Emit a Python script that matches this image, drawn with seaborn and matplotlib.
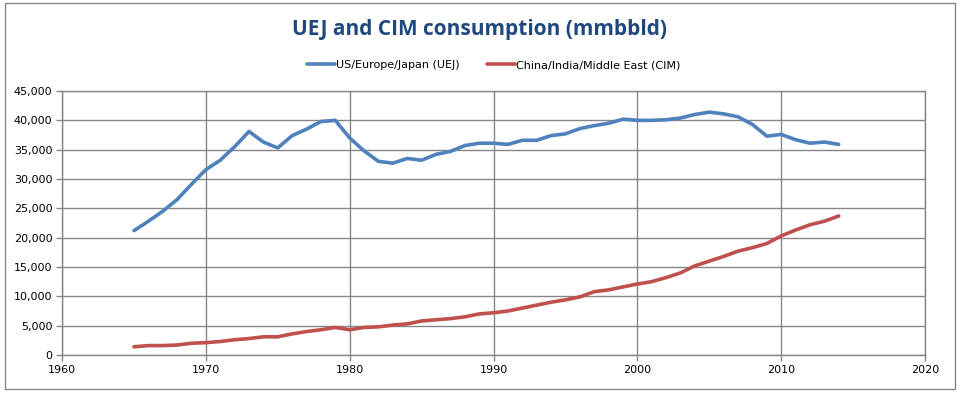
import matplotlib
matplotlib.use("Agg")
import matplotlib.pyplot as plt
import matplotlib.ticker as mticker
from matplotlib.patches import Rectangle
import pandas as pd
import seaborn as sns

years = list(range(1965, 2015))
uej = [21200, 22800, 24500, 26500, 29100, 31600, 33200, 35500, 38100, 36300,
       35300, 37400, 38500, 39800, 40000, 37000, 34800, 33000, 32700, 33500,
       33200, 34200, 34700, 35700, 36100, 36100, 35900, 36600, 36600, 37400,
       37700, 38600, 39100, 39500, 40200, 40000, 40000, 40100, 40400, 41000,
       41400, 41100, 40600, 39300, 37300, 37600, 36700, 36100, 36300, 35900]
cim = [1400, 1600, 1600, 1700, 2000, 2100, 2300, 2600, 2800, 3100,
       3100, 3600, 4000, 4300, 4700, 4300, 4700, 4800, 5100, 5300,
       5800, 6000, 6200, 6500, 7000, 7200, 7500, 8000, 8500, 9000,
       9400, 9900, 10800, 11100, 11600, 12100, 12500, 13200, 14000, 15200,
       16000, 16800, 17700, 18300, 19000, 20300, 21300, 22200, 22800, 23700]
series_names = ["US/Europe/Japan (UEJ)", "China/India/Middle East (CIM)"]

df = pd.DataFrame({
    "year": years * 2,
    "value": uej + cim,
    "series": [series_names[0]] * len(years) + [series_names[1]] * len(years),
})

sns.set_theme(style="white")
plt.rcParams["font.family"] = ["DejaVu Sans"]

grid_col = "#868686"
fig = plt.figure(figsize=(9.6, 3.94), dpi=100)
ax = fig.add_axes([0.0646, 0.099, 0.899, 0.670])

sns.lineplot(data=df, x="year", y="value", hue="series",
             palette=["#4F81BD", "#C0504D"], linewidth=2.6, ax=ax)

ax.set_xlim(1960, 2020)
ax.set_ylim(0, 45000)
ax.set_xticks(range(1960, 2021, 10))
ax.set_yticks(range(0, 45001, 5000))
ax.yaxis.set_major_formatter(mticker.FuncFormatter(lambda v, p: f"{int(v):,}"))
ax.grid(True, color=grid_col, linewidth=1.0)
ax.set_axisbelow(True)
for s in ax.spines.values():
    s.set_color(grid_col)
    s.set_linewidth(1.0)
ax.tick_params(axis="both", labelsize=8, colors="black", length=4,
               direction="out", width=1.0, color=grid_col, pad=3)
ax.tick_params(axis="both", left=True, bottom=True)
ax.set_xlabel("")
ax.set_ylabel("")

leg = ax.legend(loc="center", bbox_to_anchor=(0.5, 1.098), ncol=2, frameon=False,
                fontsize=8, handlelength=2.5, handletextpad=0.1, columnspacing=2.5)
for t in leg.get_texts():
    t.set_color("black")

fig.text(0.5, 0.924, "UEJ and CIM consumption (mmbbld)", ha="center", va="center",
         fontsize=15, fontweight="bold", color="#1F497D", family=["Open Sans", "DejaVu Sans"])

fig.patches.append(Rectangle((5 / 960, 5 / 394), 950 / 960, 386 / 394,
                             transform=fig.transFigure, fill=False,
                             edgecolor=grid_col, linewidth=1.0))

fig.savefig("out.png", dpi=100)
